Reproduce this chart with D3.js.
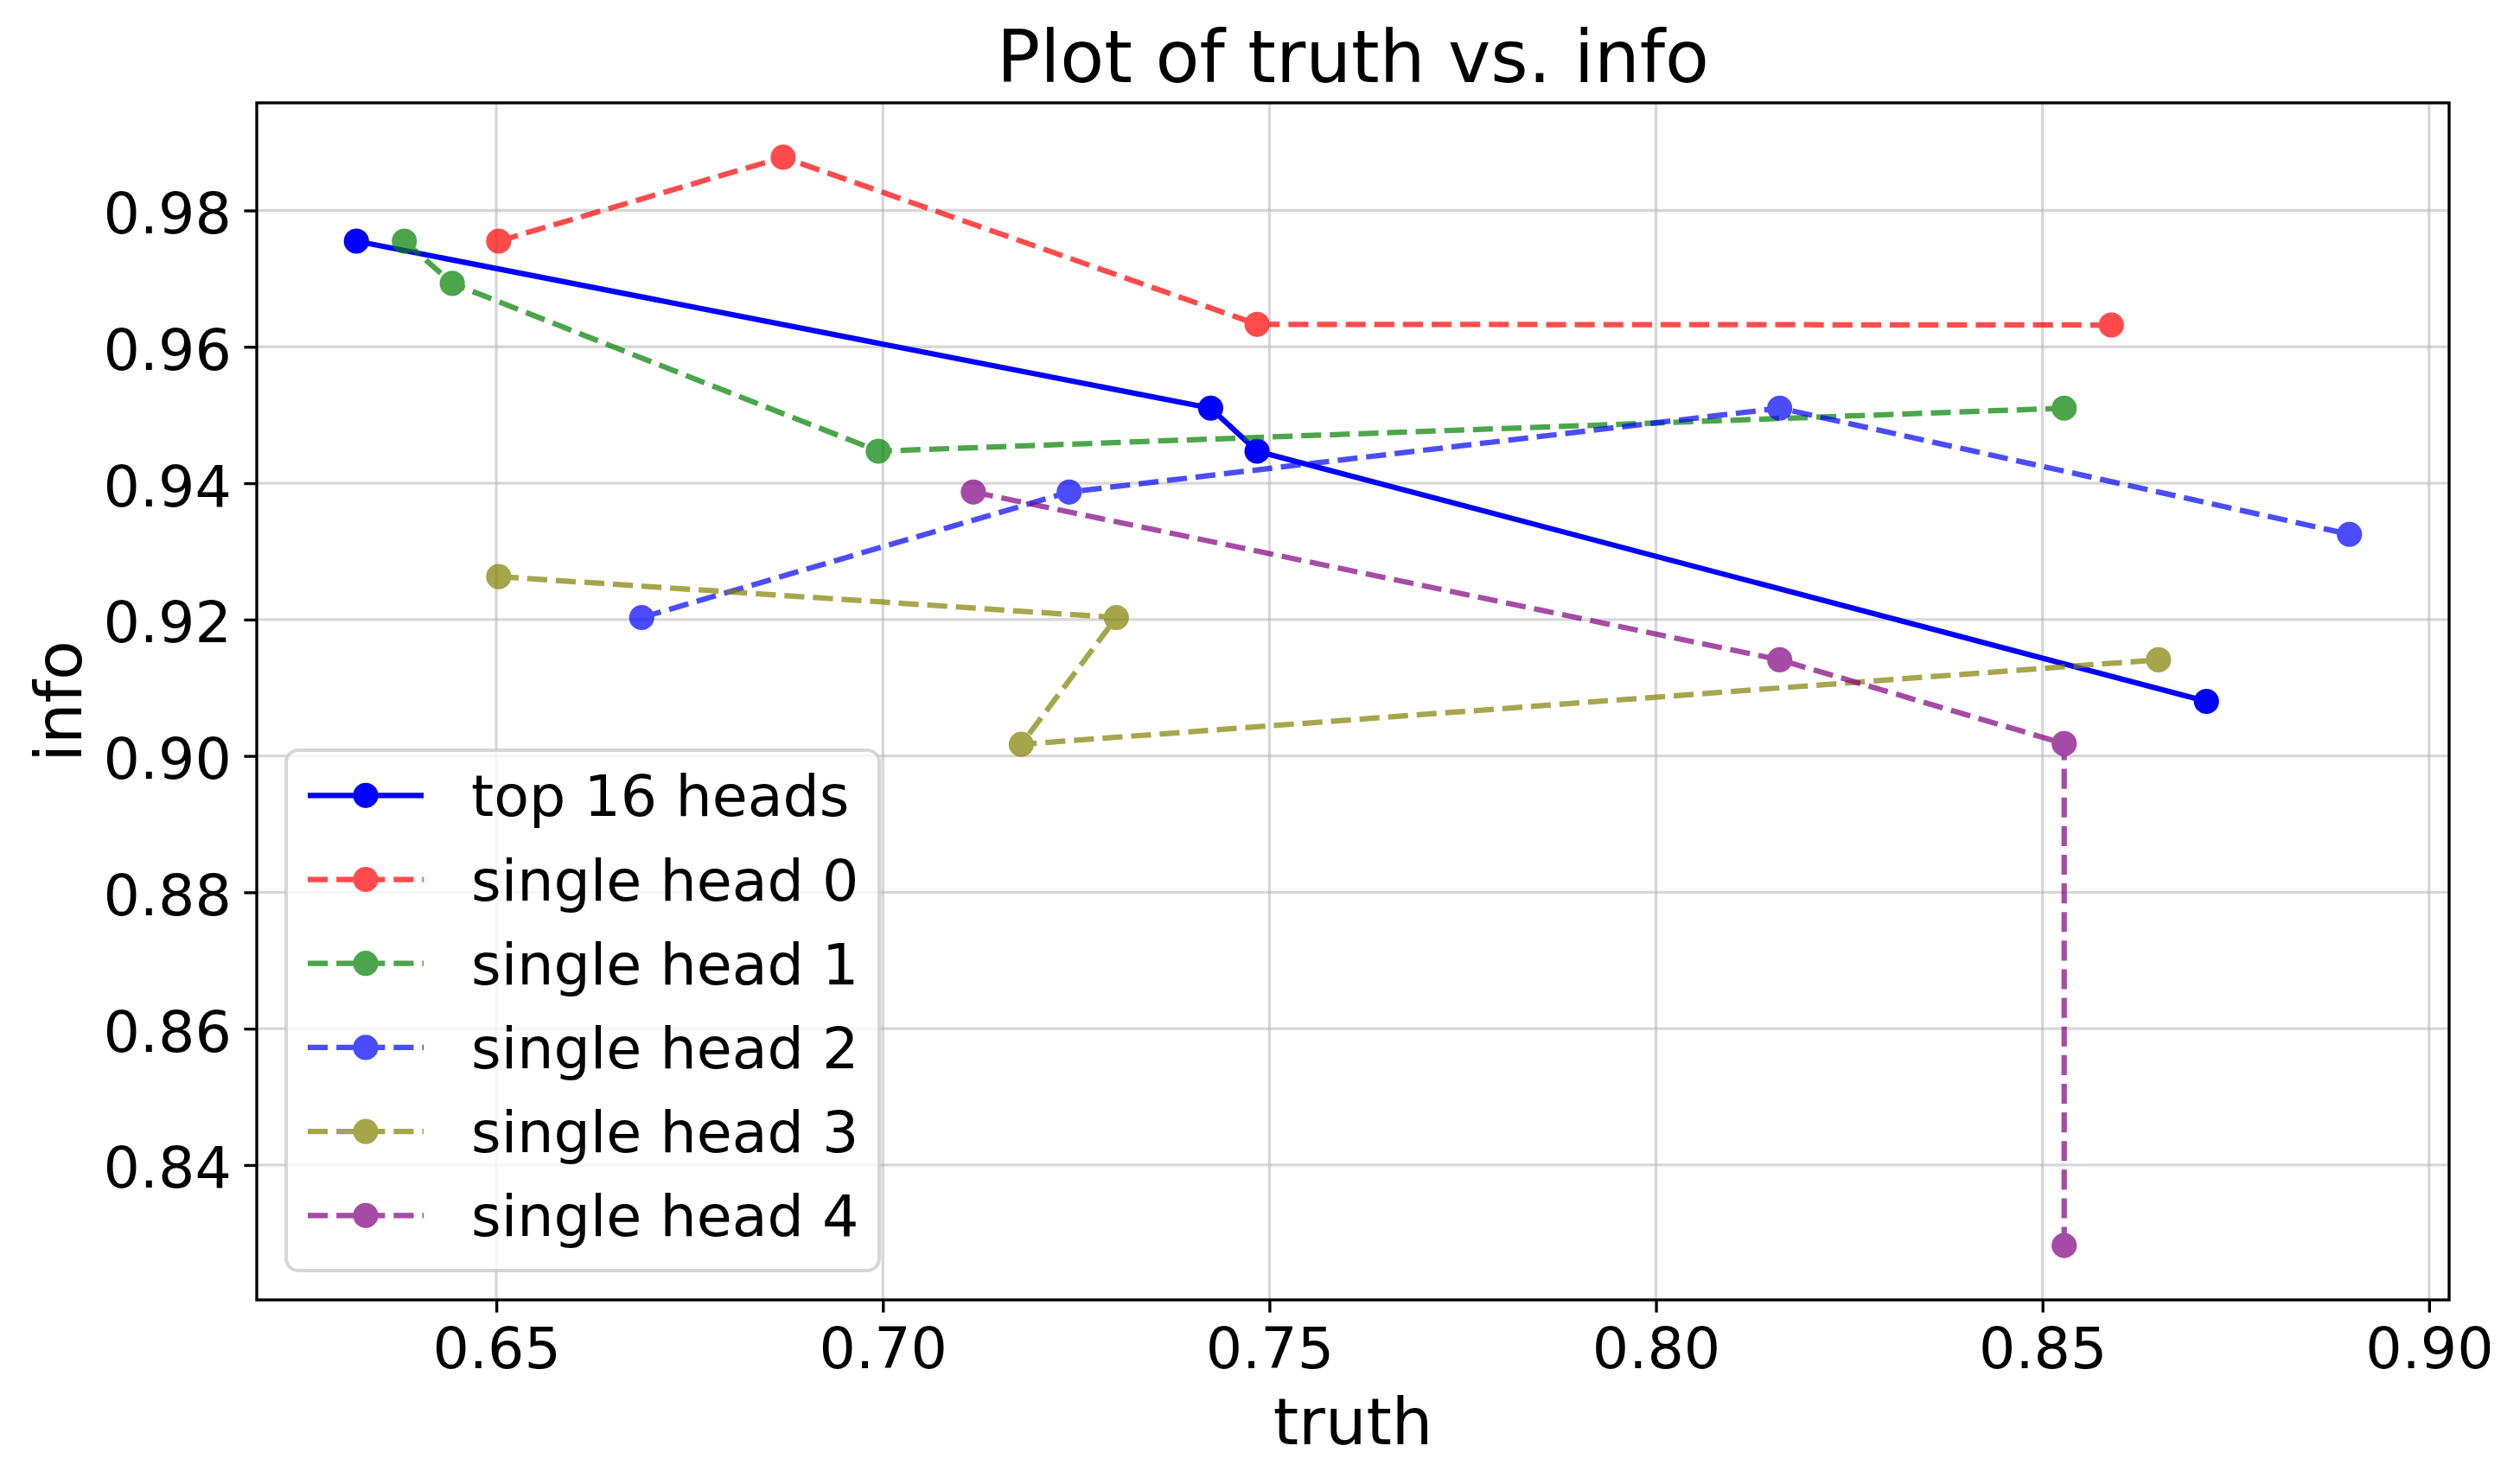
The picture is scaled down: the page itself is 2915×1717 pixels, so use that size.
<!DOCTYPE html>
<html>
<head>
<meta charset="utf-8">
<script src="https://cdn.jsdelivr.net/npm/d3@7/dist/d3.min.js"></script>
<style>
  html, body { margin: 0; padding: 0; background: #fff; }
  svg { display: block; }
  text { font-family: "DejaVu Sans", sans-serif; fill: #000; }
</style>
</head>
<body>
<svg id="chart" width="2915" height="1717"></svg>
<script>
// ---- Data ----
const seriesNames = ["top 16 heads", "single head 0", "single head 1", "single head 2", "single head 3", "single head 4"];
const seriesColors = ["#0000ff", "#ff0000", "#008000", "#0000ff", "#808000", "#800080"];
const seriesDashed = [false, true, true, true, true, true];
const seriesAlpha = [1, 0.7, 0.7, 0.7, 0.7, 0.7];

const top16Truth = [0.6319, 0.7424, 0.7484, 0.8712];
const top16Info  = [0.9755, 0.9510, 0.9447, 0.9080];
const head0Truth = [0.6503, 0.6871, 0.7484, 0.8589];
const head0Info  = [0.9755, 0.9878, 0.9633, 0.9632];
const head1Truth = [0.6381, 0.6443, 0.6994, 0.8528];
const head1Info  = [0.9755, 0.9693, 0.9447, 0.9510];
const head2Truth = [0.6688, 0.7241, 0.8160, 0.8897];
const head2Info  = [0.9203, 0.9387, 0.9510, 0.9325];
const head3Truth = [0.6503, 0.7302, 0.7179, 0.8650];
const head3Info  = [0.9263, 0.9203, 0.9017, 0.9141];
const head4Truth = [0.7117, 0.8160, 0.8528, 0.8528];
const head4Info  = [0.9387, 0.9141, 0.9018, 0.8282];

const xTicks = [0.65, 0.70, 0.75, 0.80, 0.85, 0.90];
const yTicks = [0.84, 0.86, 0.88, 0.90, 0.92, 0.94, 0.96, 0.98];

const titleText = "Plot of truth vs. info";
const xLabelText = "truth";
const yLabelText = "info";

// ---- Build series ----
const truths = [top16Truth, head0Truth, head1Truth, head2Truth, head3Truth, head4Truth];
const infos  = [top16Info, head0Info, head1Info, head2Info, head3Info, head4Info];
const series = seriesNames.map((name, i) => ({
  name, color: seriesColors[i], dashed: seriesDashed[i], alpha: seriesAlpha[i],
  points: truths[i].map((t, j) => ({ x: t, y: infos[i][j] }))
}));

// ---- Layout ----
const W = 2915, H = 1717;
const plot = { left: 297, right: 2833, top: 119, bottom: 1504 };
const PT = 300 / 72;
const lineW = 1.5 * PT;
const dash = [3.7 * 1.5 * PT, 1.6 * 1.5 * PT].join(",");
const markerR = 3.5 * PT;
const tickLen = 3.5 * PT;
const tickPad = 3.5 * PT;
const tickFont = 16 * PT, labelFont = 18 * PT, titleFont = 20 * PT, legendFont = 16 * PT;

// matplotlib-like 5% margins
const allX = truths.flat(), allY = infos.flat();
const [x0, x1] = d3.extent(allX), [y0, y1] = d3.extent(allY);
const mx = (x1 - x0) * 0.05, my = (y1 - y0) * 0.05;

const x = d3.scaleLinear().domain([x0 - mx, x1 + mx]).range([plot.left, plot.right]);
const y = d3.scaleLinear().domain([y0 - my, y1 + my]).range([plot.bottom, plot.top]);

const svg = d3.select("#chart");

// grid
const grid = svg.append("g");
grid.selectAll("line.gx").data(xTicks).join("line")
  .attr("x1", d => x(d)).attr("x2", d => x(d))
  .attr("y1", plot.top).attr("y2", plot.bottom)
  .attr("stroke", "#b0b0b0").attr("stroke-opacity", 0.5).attr("stroke-width", 0.8 * PT);
grid.selectAll("line.gy").data(yTicks).join("line")
  .attr("y1", d => y(d)).attr("y2", d => y(d))
  .attr("x1", plot.left).attr("x2", plot.right)
  .attr("stroke", "#b0b0b0").attr("stroke-opacity", 0.5).attr("stroke-width", 0.8 * PT);

// series
const line = d3.line().x(d => x(d.x)).y(d => y(d.y));
series.forEach(s => {
  const g = svg.append("g").attr("opacity", s.alpha);
  g.append("path").datum(s.points).attr("d", line)
    .attr("fill", "none").attr("stroke", s.color).attr("stroke-width", lineW)
    .attr("stroke-dasharray", s.dashed ? dash : null)
    .attr("stroke-linejoin", "round");
  g.selectAll("circle").data(s.points).join("circle")
    .attr("cx", d => x(d.x)).attr("cy", d => y(d.y)).attr("r", markerR)
    .attr("fill", s.color);
});

// axes
const xAxis = d3.axisBottom(x).tickValues(xTicks).tickFormat(d3.format(".2f"))
  .tickSizeInner(tickLen).tickSizeOuter(0).tickPadding(tickPad);
const gx = svg.append("g").attr("transform", `translate(0,${plot.bottom})`).call(xAxis);
gx.select(".domain").remove();
gx.selectAll(".tick line").attr("stroke", "#000").attr("stroke-width", 0.8 * PT);
gx.selectAll(".tick text").attr("font-size", tickFont).attr("font-family", "DejaVu Sans")
  .attr("dy", null).attr("y", tickLen + tickPad + 0.729 * tickFont + 1);

const yAxis = d3.axisLeft(y).tickValues(yTicks).tickFormat(d3.format(".2f"))
  .tickSizeInner(tickLen).tickSizeOuter(0).tickPadding(tickPad);
const gy = svg.append("g").attr("transform", `translate(${plot.left},0)`).call(yAxis);
gy.select(".domain").remove();
gy.selectAll(".tick line").attr("stroke", "#000").attr("stroke-width", 0.8 * PT);
gy.selectAll(".tick text").attr("font-size", tickFont).attr("font-family", "DejaVu Sans")
  .attr("dy", null).attr("y", 26);

// spines
svg.append("rect").attr("x", plot.left).attr("y", plot.top)
  .attr("width", plot.right - plot.left).attr("height", plot.bottom - plot.top)
  .attr("fill", "none").attr("stroke", "#000").attr("stroke-width", 0.8 * PT);

// title & labels
svg.append("text").attr("x", (plot.left + plot.right) / 2).attr("y", 95)
  .attr("text-anchor", "middle").attr("font-size", titleFont).text(titleText);
svg.append("text").attr("x", (plot.left + plot.right) / 2).attr("y", 1671)
  .attr("text-anchor", "middle").attr("font-size", labelFont).text(xLabelText);
svg.append("text").attr("transform", `translate(94,${(plot.top + plot.bottom) / 2}) rotate(-90)`)
  .attr("text-anchor", "middle").attr("font-size", labelFont).text(yLabelText);

// legend
const leg = { x: 331, y: 868, w: 686, h: 602 };
const lg = svg.append("g");
lg.append("rect").attr("x", leg.x).attr("y", leg.y).attr("width", leg.w).attr("height", leg.h)
  .attr("rx", 14).attr("ry", 14)
  .attr("fill", "#fff").attr("fill-opacity", 0.8)
  .attr("stroke", "#cccccc").attr("stroke-opacity", 0.8).attr("stroke-width", 1 * PT);
const rowY0 = 920.3, rowStep = 97.2;
series.forEach((s, i) => {
  const cy = rowY0 + i * rowStep;
  const g = lg.append("g").attr("opacity", s.alpha);
  g.append("line").attr("x1", 356).attr("x2", 490).attr("y1", cy).attr("y2", cy)
    .attr("stroke", s.color).attr("stroke-width", lineW)
    .attr("stroke-dasharray", s.dashed ? dash : null);
  g.append("circle").attr("cx", 423).attr("cy", cy).attr("r", markerR).attr("fill", s.color);
  lg.append("text").attr("x", 545).attr("y", cy + 24).attr("font-size", legendFont).text(s.name);
});
</script>
</body>
</html>
